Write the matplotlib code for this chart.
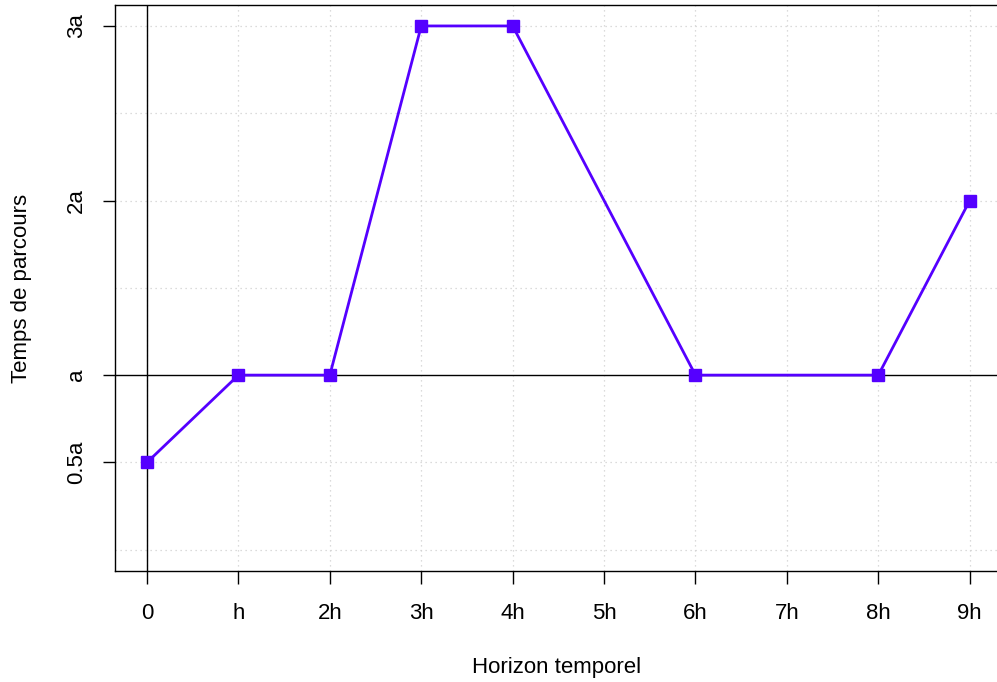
import matplotlib.pyplot as plt

# données
horizon = [0, 1, 2, 3, 4, 6, 8, 9]
temps = [0.5, 1, 1, 3, 3, 1, 1, 2]
x_ticks = [0, 1, 2, 3, 4, 5, 6, 7, 8, 9]
x_labels = ["0", "h", "2h", "3h", "4h", "5h", "6h", "7h", "8h", "9h"]
y_ticks = [0.5, 1, 2, 3]
y_labels = ["0.5a", "a", "2a", "3a"]
y_grid = [0, 0.5, 1.5, 2, 2.5, 3]

plt.rcParams["font.family"] = ["Liberation Sans", "DejaVu Sans"]

fig = plt.figure(figsize=(9.97, 6.82), dpi=100)
ax = fig.add_axes([115 / 997, 1 - 571 / 682, 1 - 115 / 997 + 0.002, 566 / 682])

ax.set_xlim(-0.35, 9.32)
ax.set_ylim(-0.122, 3.12)

for x in x_ticks:
    ax.axvline(x, color="#d0d0d0", linestyle=(0, (1, 3)), linewidth=0.9, zorder=0)
for y in y_grid:
    ax.axhline(y, color="#d0d0d0", linestyle=(0, (1, 3)), linewidth=0.9, zorder=0)

ax.axvline(0, color="black", linewidth=1.0, zorder=1)
ax.axhline(1, color="black", linewidth=1.0, zorder=1)

ax.plot(horizon, temps, color="#5500ff", linewidth=2.0, marker="s",
        markersize=8, zorder=3)

ax.set_xticks(x_ticks)
ax.set_xticklabels(x_labels)
ax.set_yticks(y_ticks)
ax.set_yticklabels(y_labels, rotation=90, va="center")
ax.tick_params(axis="both", direction="out", length=9, width=1.0,
               labelsize=16)
ax.tick_params(axis="x", pad=14)
ax.tick_params(axis="y", pad=11)

for side in ["top", "bottom", "left", "right"]:
    ax.spines[side].set_linewidth(1.0)

ax.set_xlabel("Horizon temporel", fontsize=16, labelpad=24)
ax.set_ylabel("Temps de parcours", fontsize=16, labelpad=25)

fig.savefig("out.png", dpi=100)
